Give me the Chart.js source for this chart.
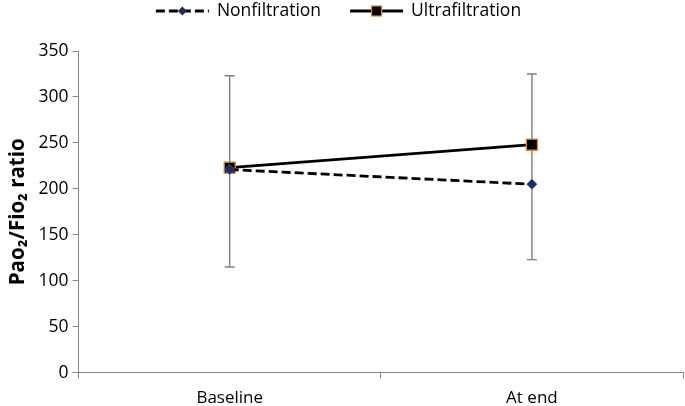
<!DOCTYPE html>
<html><head><meta charset="utf-8">
<script src="https://cdn.jsdelivr.net/npm/chart.js@4"></script>
<style>html,body{margin:0;padding:0;background:#fff}#w{width:685px;height:406px;position:relative}</style>
</head><body><div id="w"><canvas id="c"></canvas></div>
<script>
const categories = ["Baseline", "At end"];
const nonfiltration = [221, 205];
const ultrafiltration = [223, 248];
const errUpper = [323, 325];
const errLower = [115, 123];
const yTicks = [0, 50, 100, 150, 200, 250, 300, 350];
const seriesNames = ["Nonfiltration", "Ultrafiltration"];

const FONT = "'Open Sans', 'DejaVu Sans', sans-serif";
const NAVY = '#1f2d5a', ORANGE = '#d8843f';

const errorBars = {
  id: 'errorBars',
  beforeDatasetsDraw(chart) {
    const x = chart.scales.x, y = chart.scales.y, ctx = chart.ctx;
    ctx.save();
    ctx.strokeStyle = '#7f7f7f'; ctx.lineWidth = 1.4;
    categories.forEach((cat, i) => {
      const px = x.getPixelForValue(i);
      const t = y.getPixelForValue(errUpper[i]), b = y.getPixelForValue(errLower[i]);
      ctx.beginPath();
      ctx.moveTo(px, t); ctx.lineTo(px, b);
      ctx.moveTo(px - 5, t); ctx.lineTo(px + 5, t);
      ctx.moveTo(px - 5, b); ctx.lineTo(px + 5, b);
      ctx.stroke();
    });
    ctx.restore();
  }
};

const customLegend = {
  id: 'customLegend',
  afterDraw(chart) {
    const ctx = chart.ctx;
    ctx.save();
    ctx.font = "17.5px " + FONT;
    const iconW = 53, gap = 8, itemGap = 29;
    const widths = seriesNames.map(n => ctx.measureText(n).width);
    const total = widths.reduce((a, w) => a + iconW + gap + w, 0) + itemGap;
    let x = chart.width / 2 - total / 2 - 4;
    const cy = 11;
    seriesNames.forEach((name, i) => {
      ctx.strokeStyle = '#000'; ctx.lineWidth = 2.8;
      ctx.setLineDash(i === 0 ? [9, 4] : []);
      ctx.beginPath(); ctx.moveTo(x, cy); ctx.lineTo(x + iconW, cy); ctx.stroke();
      ctx.setLineDash([]);
      const mx = x + iconW / 2;
      if (i === 0) {
        ctx.fillStyle = NAVY;
        ctx.beginPath(); ctx.moveTo(mx, cy - 4.5); ctx.lineTo(mx + 4.5, cy); ctx.lineTo(mx, cy + 4.5); ctx.lineTo(mx - 4.5, cy); ctx.closePath(); ctx.fill();
      } else {
        ctx.fillStyle = '#000'; ctx.strokeStyle = ORANGE; ctx.lineWidth = 1.2;
        ctx.fillRect(mx - 5, cy - 5, 10, 10); ctx.strokeRect(mx - 5, cy - 5, 10, 10);
      }
      ctx.fillStyle = '#000'; ctx.textBaseline = 'middle'; ctx.textAlign = 'left';
      ctx.fillText(name, x + iconW + gap, cy);
      x += iconW + gap + widths[i] + itemGap;
    });
    ctx.restore();
  }
};

new Chart(document.getElementById('c'), {
  type: 'line',
  data: {
    labels: categories,
    datasets: [
      { label: seriesNames[0], data: nonfiltration, borderColor: '#000', borderWidth: 2.8, borderDash: [9, 4],
        pointStyle: 'rectRot', pointRadius: 5, pointBackgroundColor: NAVY, pointBorderColor: '#3556a8', pointBorderWidth: 1, tension: 0 },
      { label: seriesNames[1], data: ultrafiltration, borderColor: '#000', borderWidth: 2.8,
        pointStyle: 'rect', pointRadius: 7.8, pointBackgroundColor: '#000', pointBorderColor: ORANGE, pointBorderWidth: 1.3, tension: 0 }
    ]
  },
  options: {
    responsive: true, maintainAspectRatio: false, animation: false,
    layout: { autoPadding: false, padding: { left: 2, right: 2, top: 51, bottom: -11 } },
    plugins: { tooltip: { enabled: false }, legend: { display: false } },
    scales: {
      x: {
        offset: true,
        grid: { display: true, offset: true, drawOnChartArea: false, drawTicks: true, tickLength: 6, color: '#868686' },
        border: { color: '#868686', width: 1 },
        ticks: { font: { family: FONT, size: 17 }, color: '#000', padding: 9 }
      },
      y: {
        min: 0, max: 350,
        afterBuildTicks(axis) { axis.ticks = yTicks.map(v => ({ value: v })); },
        grid: { display: true, drawOnChartArea: false, drawTicks: true, tickLength: 6, color: '#868686' },
        border: { color: '#868686', width: 1 },
        ticks: { font: { family: FONT, size: 17.5 }, color: '#000', padding: 4 },
        title: { display: true, text: 'Pao₂/Fio₂ ratio', font: { family: FONT, size: 20.5, weight: 'bold' }, color: '#000', padding: 4 }
      }
    }
  },
  plugins: [errorBars, customLegend]
});
</script></body></html>
